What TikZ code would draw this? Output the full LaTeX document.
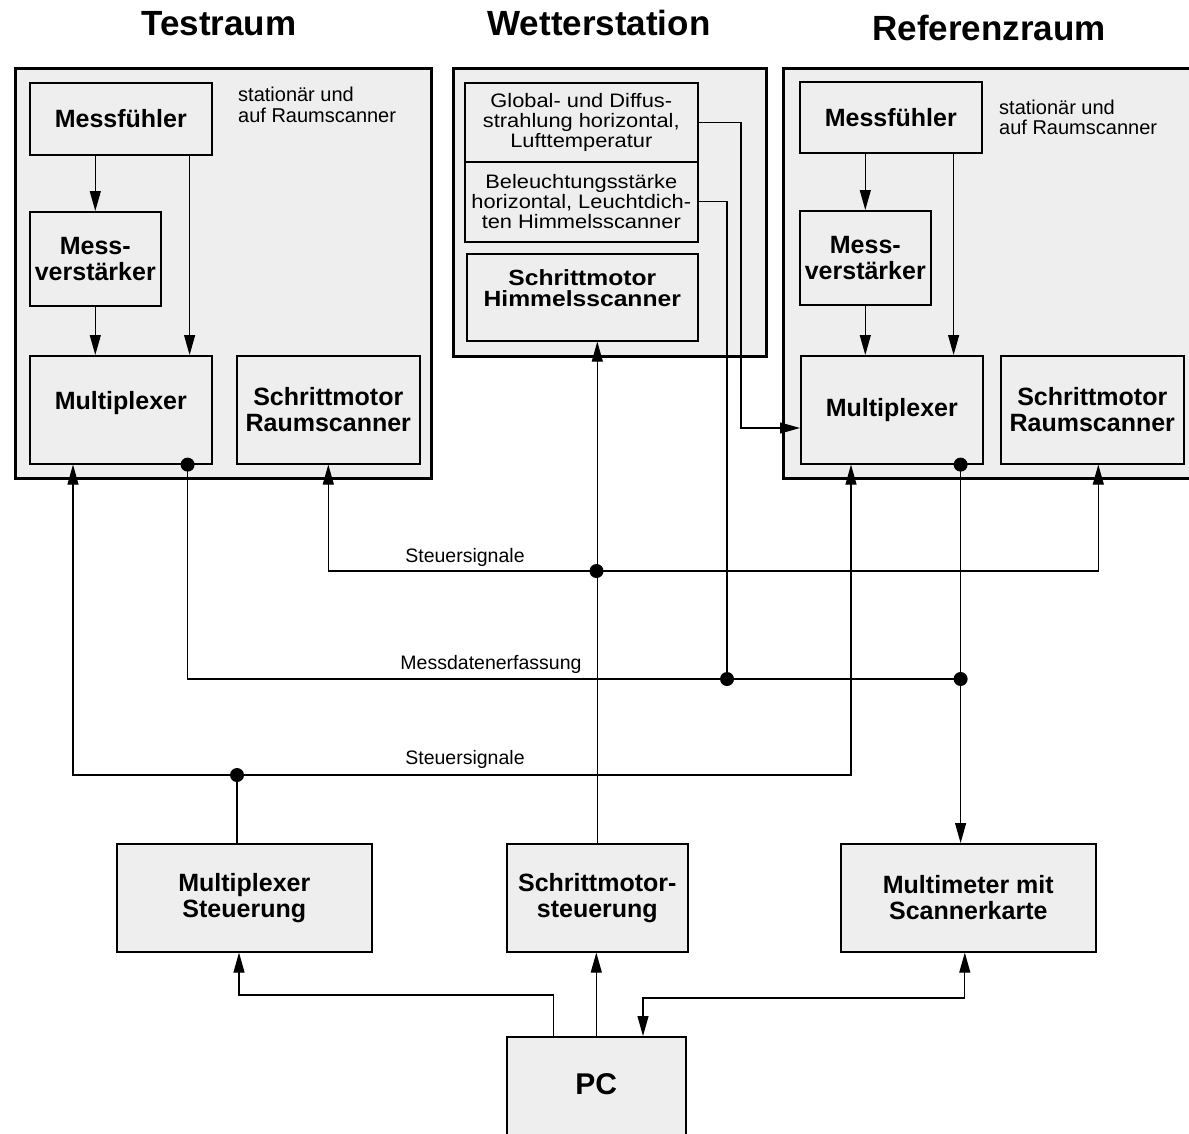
\documentclass[tikz,border=0pt]{standalone}
\usepackage{fontspec}
\setmainfont{Liberation Sans}
\newfontfamily\wideSans[FakeStretch=1.12]{Liberation Sans}
\newfontfamily\wideSansB[FakeStretch=1.12]{Liberation Sans}
\usetikzlibrary{arrows.meta}
\definecolor{boxgray}{RGB}{238,238,238}
\begin{document}
\begin{tikzpicture}[x=1pt,y=-1pt,
  >={Triangle[length=20pt,width=11pt]},
  outerbox/.style={draw, fill=boxgray, line width=2.5pt, inner sep=0pt, anchor=north west},
  blk/.style={draw, fill=boxgray, line width=1.6pt, inner sep=0pt, anchor=north west, align=center,
    font=\bfseries\fontsize{25}{26}\selectfont},
  thinbox/.style={draw, fill=boxgray, line width=1.6pt, inner sep=0pt, anchor=north west, align=center,
    font=\wideSans\fontsize{19.5}{20}\selectfont},
  conn/.style={line width=1.1pt},
  titletext/.style={font=\bfseries\fontsize{35}{40}\selectfont, anchor=base, inner sep=0pt},
  note/.style={font=\fontsize{20}{20.5}\selectfont, align=left, anchor=north west, inner sep=0pt},
  sig/.style={font=\fontsize{19.5}{20}\selectfont, anchor=base, inner sep=0pt}]
\useasboundingbox (0,0) rectangle (1189,1133);
\clip (0,0) rectangle (1189,1133);

% titles
\node[titletext] (t1) at (219,35) {Testraum};
\node[titletext] (t2) at (599,35) {Wetterstation};
\node[titletext] (t3) at (989,40) {Referenzraum};

% outer boxes
\node[outerbox, minimum width=416pt, minimum height=410pt] (TR) at (14,67) {};
\node[outerbox, minimum width=313pt, minimum height=288pt] (WS) at (452,67) {};
\node[outerbox, minimum width=430pt, minimum height=410pt] (RR) at (782,67) {};

% Testraum
\node[blk, minimum width=182pt, minimum height=72pt] (MF1) at (29,82) {Messfühler};
\node[blk, minimum width=131pt, minimum height=94pt] (MV1) at (29,211) {Mess-\\verstärker};
\node[blk, minimum width=182pt, minimum height=108pt,
  label={[yshift=7pt, font=\bfseries\fontsize{25}{26}\selectfont]center:Multiplexer}] (MX1) at (29,355) {};
\node[blk, minimum width=183pt, minimum height=108pt] (SR1) at (236,355) {Schrittmotor\\Raumscanner};
\node[note] (n1) at (238,87) {stationär und\\auf Raumscanner};

% Wetterstation
\node[thinbox, minimum width=233pt, minimum height=79pt] (GL) at (464,82) {Global- und Diffus-\\strahlung horizontal,\\Lufttemperatur};
\node[thinbox, minimum width=233pt, minimum height=80pt] (BL) at (464,161) {Beleuchtungsstärke\\horizontal, Leuchtdich-\\ten Himmelsscanner};
\node[blk, minimum width=231pt, minimum height=87pt,
  label={[yshift=9pt, align=center, font=\wideSansB\bfseries\fontsize{22}{20.5}\selectfont]center:Schrittmotor\\Himmelsscanner}] (SH) at (466,253) {};

% Referenzraum
\node[blk, minimum width=182pt, minimum height=71pt] (MF2) at (799,81) {Messfühler};
\node[blk, minimum width=131pt, minimum height=94pt] (MV2) at (799,210) {Mess-\\verstärker};
\node[blk, minimum width=182pt, minimum height=108pt] (MX2) at (800,355) {Multiplexer};
\node[blk, minimum width=183pt, minimum height=108pt] (SR2) at (1000,355) {Schrittmotor\\Raumscanner};
\node[note] (n2) at (999,99.5) {stationär und\\auf Raumscanner};

% bottom row
\node[blk, minimum width=255pt, minimum height=108pt] (MS) at (116,843) {Multiplexer\\Steuerung};
\node[blk, minimum width=181pt, minimum height=108pt] (SS) at (506,843) {Schrittmotor-\\steuerung};
\node[blk, minimum width=255pt, minimum height=108pt] (MM) at (840,843) {Multimeter mit\\Scannerkarte};
\node[blk, minimum width=179pt, minimum height=120pt,
  label={[yshift=13pt, font=\bfseries\fontsize{30}{30}\selectfont]center:PC}] (PC) at (506,1036) {};

% internal connectors
\draw[conn,->] (MV1.north |- MF1.south) -- (MV1.north);
\draw[conn,->] (MV1.south) -- (MV1.south |- MX1.north);
\draw[conn,->] ([xshift=-23pt]MF1.south east) -- ([xshift=-23pt]MF1.south east |- MX1.north);
\draw[conn,->] (MV2.north |- MF2.south) -- (MV2.north);
\draw[conn,->] (MV2.south) -- (MV2.south |- MX2.north);
\draw[conn,->] ([xshift=-29pt]MF2.south east) -- ([xshift=-29pt]MF2.south east |- MX2.north);

% junctions
\coordinate (d1) at ([xshift=-25pt]MX1.south east);
\coordinate (d2) at ([xshift=-23pt]MX2.south east);
\coordinate (jA) at (727,679);
\coordinate (jB) at (d2 |- jA);
\coordinate (jS1) at (596.5,571);
\coordinate (jS2) at (237,775);
\coordinate (gb) at (741,428);
\coordinate (pcL) at ([xshift=-43pt]PC.north);
\coordinate (bL) at (239,995);
\coordinate (bR) at (643,998);

% Messdatenerfassung
\draw[conn] (d1) |- (jB);
\draw[conn] (BL.east) -| (jA);
\draw[conn,->] (d2) -- (d2 |- MM.north);
\draw[conn,->] (GL.east) -| (gb) -- (gb -| MX2.west);

% Steuersignale (Schrittmotoren)
\draw[conn,->] (SS.north) -- (SS.north |- SH.south);
\draw[conn,->] (jS1) -| (SR1.south);
\draw[conn,->] (jS1) -| ([xshift=6pt]SR2.south);

% Steuersignale (Multiplexer)
\draw[conn,->] (jS2) -| ([xshift=44pt]MX1.south west);
\draw[conn,->] (jS2) -| ([xshift=51pt]MX2.south west);
\draw[conn] (jS2) -- (jS2 |- MS.north);

% PC connections
\draw[conn,->] (pcL) |- (bL) -- (bL |- MS.south);
\draw[conn,->] (PC.north) -- (PC.north |- SS.south);
\draw[conn,<->] ([xshift=-3.5pt]MM.south) |- (bR) -- (bR |- PC.north);

% dots
\foreach \p in {d1,d2,jA,jB,jS1,jS2} \fill (\p) circle[radius=7pt];

% connector labels
\node[sig] (l1) at (465,562) {Steuersignale};
\node[sig] (l2) at (491,669) {Messdatenerfassung};
\node[sig] (l3) at (465,764) {Steuersignale};
\end{tikzpicture}
\end{document}
